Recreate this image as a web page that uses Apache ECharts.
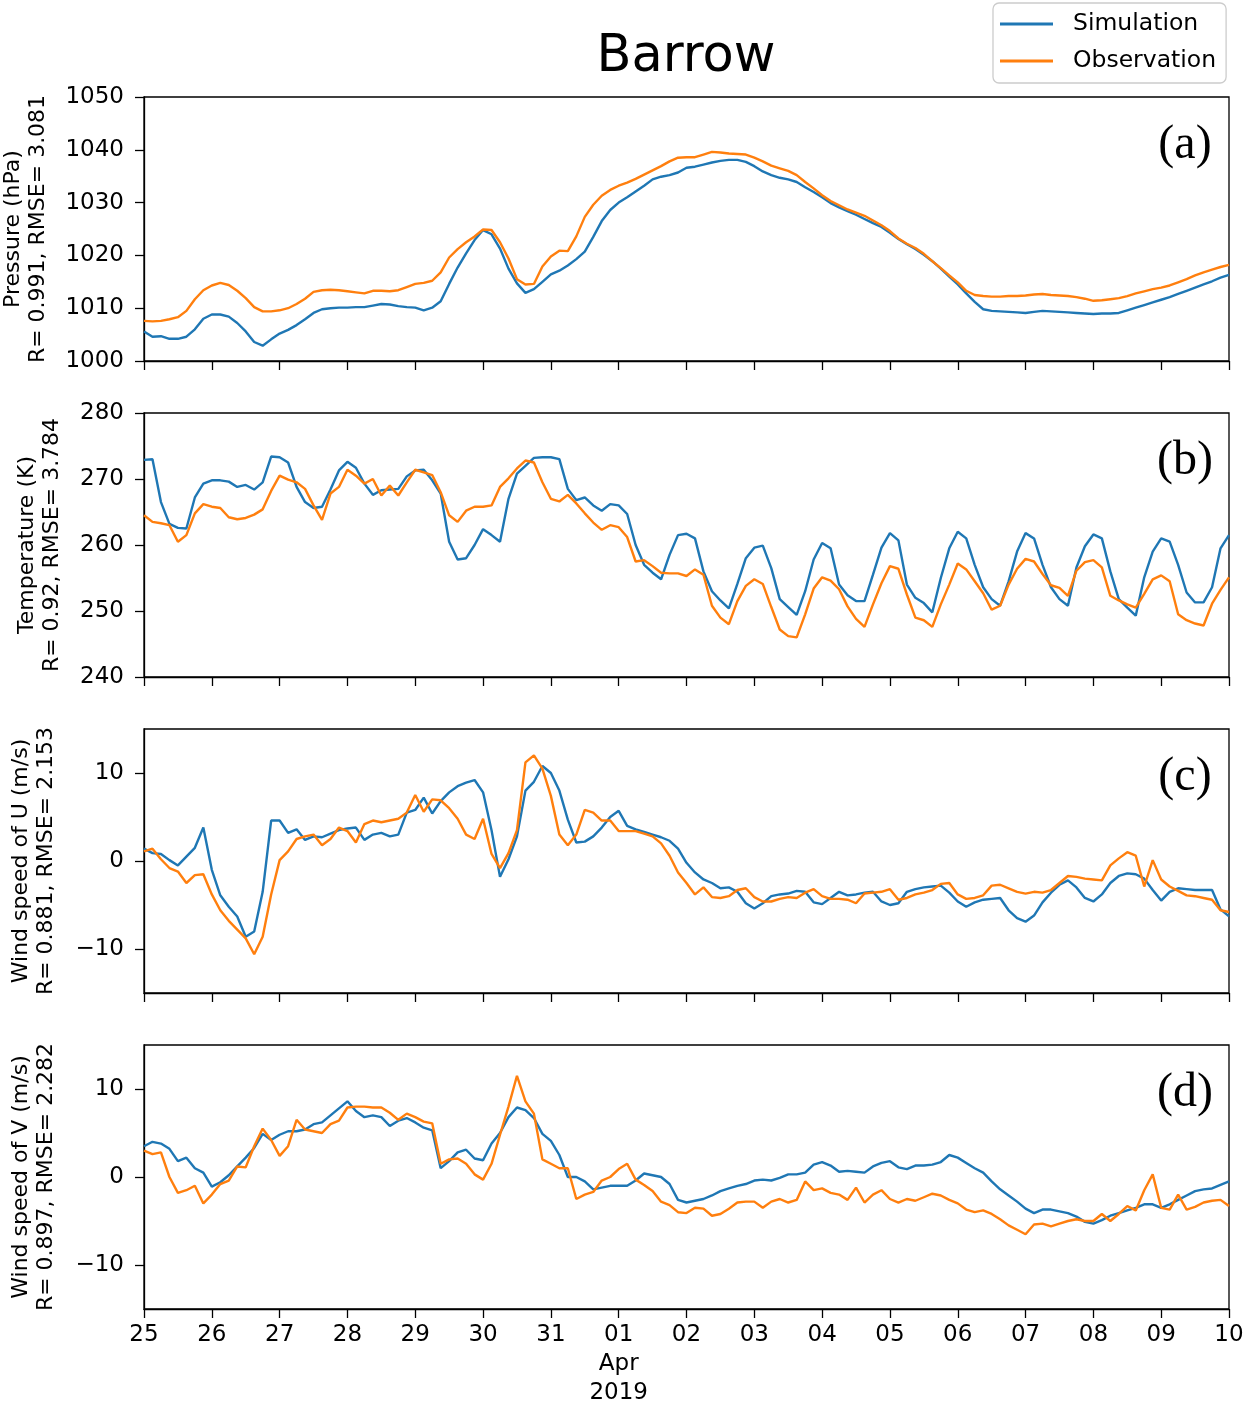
<!DOCTYPE html>
<html>
<head>
<meta charset="utf-8">
<title>Barrow</title>
<script src="https://cdn.jsdelivr.net/npm/echarts@6/dist/echarts.min.js"></script>
<style>
  html, body { margin: 0; padding: 0; background: #fff; }
  #chart { width: 1243px; height: 1403px; }
</style>
</head>
<body>
<div id="chart"></div>
<script>
// 3-hourly samples from 2019-03-25 00:00 to 2019-04-10 00:00 (129 points)
var STEP_DAYS = 0.125;
var dayLabels = ['25', '26', '27', '28', '29', '30', '31', '01\nApr\n2019',
  '02', '03', '04', '05', '06', '07', '08', '09', '10'];

var pressureSim = [
  1005.6, 1004.6, 1004.7, 1004.2, 1004.2, 1004.6, 1006.0, 1008.0,
  1008.8, 1008.8, 1008.4, 1007.2, 1005.6, 1003.6, 1002.9, 1004.1,
  1005.2, 1005.9, 1006.8, 1007.9, 1009.1, 1009.8, 1010.0, 1010.1,
  1010.1, 1010.2, 1010.2, 1010.5, 1010.8, 1010.7, 1010.4, 1010.2,
  1010.1, 1009.6, 1010.1, 1011.3, 1014.6, 1017.7, 1020.4, 1022.9,
  1024.8, 1024.0, 1021.3, 1017.5, 1014.7, 1012.9, 1013.6, 1015.0,
  1016.4, 1017.1, 1018.1, 1019.3, 1020.7, 1023.5, 1026.5, 1028.6,
  1030.0, 1031.0, 1032.1, 1033.2, 1034.4, 1034.9, 1035.2, 1035.7,
  1036.6, 1036.8, 1037.2, 1037.6, 1037.9, 1038.1, 1038.1, 1037.7,
  1036.9, 1035.9, 1035.2, 1034.7, 1034.4, 1033.9, 1032.9, 1032.0,
  1031.0, 1029.9, 1029.1, 1028.4, 1027.7, 1026.9, 1026.1, 1025.4,
  1024.3, 1023.1, 1022.1, 1021.2, 1020.1, 1018.9, 1017.5, 1016.0,
  1014.5, 1012.8, 1011.2, 1009.8, 1009.5, 1009.4, 1009.3, 1009.2,
  1009.1, 1009.3, 1009.5, 1009.4, 1009.3, 1009.2, 1009.1, 1009.0,
  1008.9, 1009.0, 1009.0, 1009.1, 1009.6, 1010.1, 1010.6, 1011.1,
  1011.6, 1012.1, 1012.7, 1013.3, 1013.9, 1014.5, 1015.1, 1015.8,
  1016.3
];
var pressureObs = [
  1007.6, 1007.5, 1007.6, 1007.9, 1008.3, 1009.5, 1011.7, 1013.4,
  1014.3, 1014.8, 1014.4, 1013.3, 1011.9, 1010.2, 1009.4, 1009.4,
  1009.6, 1010.0, 1010.8, 1011.8, 1013.1, 1013.4, 1013.5, 1013.4,
  1013.2, 1013.0, 1012.8, 1013.3, 1013.3, 1013.2, 1013.4, 1014.0,
  1014.6, 1014.8, 1015.2, 1016.8, 1019.6, 1021.2, 1022.5, 1023.6,
  1024.9, 1024.8, 1022.5, 1019.4, 1015.5, 1014.5, 1014.6, 1017.9,
  1019.8, 1020.9, 1020.8, 1023.6, 1027.3, 1029.6, 1031.3, 1032.4,
  1033.2, 1033.8, 1034.5, 1035.3, 1036.1, 1036.9, 1037.8, 1038.5,
  1038.6, 1038.6, 1039.1, 1039.6, 1039.5, 1039.3, 1039.2, 1039.1,
  1038.5, 1037.8, 1037.0, 1036.5, 1036.0, 1035.2, 1033.9, 1032.7,
  1031.4, 1030.3, 1029.5, 1028.7, 1028.1, 1027.5, 1026.6, 1025.7,
  1024.6, 1023.2, 1022.2, 1021.4, 1020.3, 1018.9, 1017.6, 1016.2,
  1014.9, 1013.3, 1012.5, 1012.3, 1012.2, 1012.2, 1012.3, 1012.3,
  1012.4, 1012.6, 1012.7, 1012.5, 1012.4, 1012.3, 1012.1, 1011.8,
  1011.4, 1011.5, 1011.7, 1011.9, 1012.3, 1012.8, 1013.2, 1013.6,
  1013.9, 1014.3, 1014.9, 1015.5, 1016.2, 1016.8, 1017.3, 1017.8,
  1018.2
];

var tempSim = [
  272.9, 273.0, 266.5, 263.2, 262.6, 262.5, 267.2, 269.3,
  269.8, 269.8, 269.6, 268.8, 269.1, 268.4, 269.5, 273.4,
  273.3, 272.5, 268.8, 266.5, 265.6, 265.8, 268.4, 271.3,
  272.6, 271.7, 269.3, 267.6, 268.3, 268.4, 268.5, 270.4,
  271.3, 271.4, 269.8, 267.8, 260.5, 257.8, 258.0, 260.0,
  262.4, 261.5, 260.5, 267.0, 270.8, 272.0, 273.2, 273.3,
  273.3, 273.0, 268.5, 266.8, 267.2, 266.0, 265.2, 266.2,
  266.0, 264.7, 260.0, 257.0, 255.8, 254.8, 258.5, 261.5,
  261.7, 261.0, 256.0, 253.0, 251.6, 250.4, 254.1, 258.0,
  259.6, 259.9, 256.5, 251.8, 250.6, 249.4, 253.0, 257.8,
  260.3, 259.5, 254.0, 252.4, 251.5, 251.5, 255.5, 259.6,
  261.8, 260.7, 254.0, 252.0, 251.2, 249.8, 255.0, 259.5,
  262.0, 261.0, 257.0, 253.6, 251.8, 250.8, 254.5, 259.0,
  261.8, 261.0, 257.0, 253.6, 251.8, 250.8, 256.6, 259.8,
  261.6, 261.0, 256.0, 251.8, 250.5, 249.3, 255.1, 259.0,
  261.0, 260.5, 257.0, 252.8, 251.3, 251.3, 253.6, 259.5,
  261.5
];
var tempObs = [
  264.5, 263.5, 263.3, 263.0, 260.5, 261.5, 264.8, 266.2,
  265.8, 265.6, 264.2, 263.9, 264.1, 264.6, 265.4, 268.2,
  270.5, 269.9, 269.5, 268.5, 266.0, 263.8, 267.8, 268.8,
  271.4, 270.5, 269.3, 270.0, 267.5, 269.0, 267.5, 269.5,
  271.4, 271.0, 270.6, 268.0, 264.5, 263.5, 265.2, 265.8,
  265.8, 266.0, 268.8, 270.1, 271.6, 272.8, 272.5, 269.5,
  267.0, 266.6, 267.6, 266.3, 264.8, 263.4, 262.3, 263.0,
  262.7, 261.2, 257.5, 257.7, 256.8, 255.8, 255.7, 255.7,
  255.3, 256.3, 255.5, 250.8, 249.0, 248.0, 251.5, 253.8,
  254.8, 254.1, 250.6, 247.2, 246.2, 246.0, 249.5, 253.4,
  255.1, 254.6, 253.3, 250.7, 248.8, 247.6, 251.0, 254.2,
  256.8, 256.4, 252.5, 249.0, 248.6, 247.6, 251.0, 254.0,
  257.2, 256.3, 254.5, 252.7, 250.2, 250.8, 254.0, 256.4,
  257.9, 257.5, 255.6, 253.9, 253.5, 252.3, 256.1, 257.4,
  257.7, 256.6, 252.3, 251.6, 251.0, 250.5, 252.6, 254.8,
  255.4, 254.5, 249.5, 248.6, 248.1, 247.8, 251.1, 253.2,
  255.1
];

var uSim = [
  1.4, 0.9, 0.8, 0.1, -0.5, 0.5, 1.5, 3.8,
  -1.0, -3.9, -5.2, -6.3, -8.6, -8.0, -3.5, 4.6,
  4.6, 3.2, 3.6, 2.4, 2.8, 2.7, 3.1, 3.5,
  3.7, 3.8, 2.4, 3.0, 3.2, 2.8, 3.0, 5.5,
  5.8, 7.2, 5.4, 6.8, 7.8, 8.5, 8.9, 9.2,
  7.8, 3.5, -1.8, 0.2, 2.8, 8.0, 9.0, 10.8,
  10.0, 8.0, 4.7, 2.1, 2.2, 2.8, 3.8, 5.0,
  5.7, 4.0, 3.6, 3.3, 3.0, 2.7, 2.3, 1.4,
  -0.2, -1.3, -2.1, -2.5, -3.1, -3.0, -3.5, -4.8,
  -5.4, -4.8, -4.0, -3.8, -3.7, -3.4, -3.5, -4.7,
  -4.9, -4.2, -3.5, -3.9, -3.8, -3.6, -3.5, -4.6,
  -5.0, -4.8, -3.5, -3.2, -3.0, -2.9, -2.8, -3.6,
  -4.6, -5.2, -4.7, -4.4, -4.3, -4.2, -5.6, -6.5,
  -6.9, -6.2, -4.7, -3.6, -2.7, -2.2, -3.0, -4.2,
  -4.6, -3.8, -2.5, -1.7, -1.4, -1.5, -2.0, -3.3,
  -4.5, -3.5, -3.1, -3.2, -3.3, -3.3, -3.3, -5.5,
  -6.3
];
var uObs = [
  1.1, 1.4, 0.2, -0.8, -1.2, -2.5, -1.6, -1.5,
  -3.8, -5.6, -6.8, -7.8, -8.8, -10.6, -8.6, -3.8,
  0.1, 1.1, 2.5, 2.8, 3.0, 1.8, 2.5, 3.8,
  3.4, 2.1, 4.2, 4.6, 4.4, 4.6, 4.8, 5.5,
  7.5, 5.6, 7.0, 6.9, 6.0, 4.8, 3.0, 2.5,
  4.8, 0.8, -0.8, 0.9, 3.5, 11.2, 12.0, 10.5,
  7.4, 3.0, 1.8, 3.0, 5.8, 5.5, 4.6, 4.6,
  3.4, 3.4, 3.4, 3.1, 2.8, 2.0, 0.6, -1.3,
  -2.5, -3.8, -3.0, -4.1, -4.2, -4.0, -3.3, -3.1,
  -4.1, -4.6, -4.6, -4.3, -4.1, -4.2, -3.6, -3.2,
  -4.0, -4.3, -4.3, -4.4, -4.8, -3.7, -3.6, -3.5,
  -3.2, -4.4, -4.2, -3.8, -3.6, -3.3, -2.6, -2.5,
  -3.8, -4.3, -4.2, -3.9, -2.8, -2.7, -3.1, -3.5,
  -3.7, -3.5, -3.6, -3.3, -2.5, -1.7, -1.8, -2.0,
  -2.1, -2.2, -0.5, 0.3, 1.0, 0.6, -2.9, 0.1,
  -2.1, -2.9, -3.4, -3.9, -4.0, -4.2, -4.4, -5.6,
  -5.8
];

var vSim = [
  3.5, 4.0, 3.8, 3.2, 1.8, 2.2, 1.0, 0.5,
  -1.1, -0.6, 0.2, 1.2, 2.2, 3.3, 4.9, 4.2,
  4.8, 5.2, 5.2, 5.4, 6.0, 6.2, 7.0, 7.8,
  8.6, 7.5, 6.8, 7.0, 6.8, 5.8, 6.4, 6.7,
  6.2, 5.6, 5.3, 1.0, 1.8, 2.8, 3.1, 2.1,
  1.9, 3.8, 5.0, 6.8, 7.9, 7.6, 6.7, 4.9,
  4.1, 2.5, 0.0, 0.0, -0.5, -1.4, -1.2, -1.0,
  -1.0, -1.0, -0.4, 0.4, 0.2, 0.0, -0.8, -2.6,
  -2.9, -2.7, -2.5, -2.1, -1.6, -1.3, -1.0, -0.8,
  -0.4, -0.3, -0.4, -0.1, 0.3, 0.3, 0.5, 1.4,
  1.7, 1.3, 0.6, 0.7, 0.6, 0.5, 1.2, 1.6,
  1.8, 1.1, 0.9, 1.3, 1.3, 1.4, 1.7, 2.5,
  2.2, 1.6, 1.0, 0.5, -0.5, -1.4, -2.1, -2.8,
  -3.6, -4.1, -3.7, -3.7, -3.9, -4.1, -4.5, -5.1,
  -5.3, -4.9, -4.4, -4.1, -3.8, -3.5, -3.1, -3.1,
  -3.5, -3.1, -2.6, -2.1, -1.6, -1.4, -1.3, -0.9,
  -0.5
];
var vObs = [
  3.0, 2.6, 2.8, 0.0, -1.8, -1.5, -1.0, -3.0,
  -2.0, -0.8, -0.4, 1.2, 1.1, 3.5, 5.5, 4.2,
  2.4, 3.5, 6.5, 5.4, 5.2, 5.0, 6.0, 6.4,
  7.9, 8.0, 8.0, 7.9, 7.9, 7.3, 6.5, 7.2,
  6.8, 6.3, 6.1, 1.5, 2.0, 2.1, 1.5, 0.3,
  -0.3, 1.5, 4.8, 8.0, 11.5, 8.6, 7.2, 2.0,
  1.5, 1.0, 1.0, -2.5, -2.0, -1.7, -0.4, 0.0,
  0.9, 1.5, -0.3, -0.9, -1.6, -2.8, -3.2, -4.0,
  -4.1, -3.5, -3.6, -4.4, -4.2, -3.6, -2.9, -2.8,
  -2.8, -3.5, -2.8, -2.5, -2.9, -2.6, -0.5, -1.5,
  -1.3, -1.8, -2.0, -2.6, -1.2, -2.9, -2.0, -1.5,
  -2.5, -2.9, -2.5, -2.7, -2.3, -1.9, -2.1, -2.6,
  -3.0, -3.7, -4.0, -3.8, -4.2, -4.8, -5.5, -6.0,
  -6.5, -5.4, -5.3, -5.6, -5.3, -5.0, -4.8, -5.0,
  -5.0, -4.2, -5.0, -4.2, -3.3, -3.8, -1.5, 0.3,
  -3.5, -3.7, -2.0, -3.7, -3.4, -2.9, -2.7, -2.6,
  -3.3
];

var panelNames = [
  'Pressure (hPa)\nR= 0.991, RMSE= 3.081',
  'Temperature (K)\nR= 0.92, RMSE= 3.784',
  'Wind speed of U (m/s)\nR= 0.881, RMSE= 2.153',
  'Wind speed of V (m/s)\nR= 0.897, RMSE= 2.282'
];
var panelTags = ['(a)', '(b)', '(c)', '(d)'];
var yRanges = [
  { min: 1000, max: 1050, interval: 10, ticks: null },
  { min: 240, max: 280, interval: 10, ticks: null },
  { min: -15, max: 15, interval: 5, ticks: [-10, 0, 10] },
  { min: -15, max: 15, interval: 5, ticks: [-10, 0, 10] }
];
var simSets = [pressureSim, tempSim, uSim, vSim];
var obsSets = [pressureObs, tempObs, uObs, vObs];

(function () {
  var blue = '#1f77b4';
  var orange = '#ff7f0e';
  var font = 'DejaVu Sans';
  var gridTops = [97, 413, 729, 1045];
  var gridH = 264;
  var nameGaps = [93, 79, 85, 85];

  function toPoints(vals) {
    return vals.map(function (v, i) { return [i * STEP_DAYS, v]; });
  }
  function minus(s) { return String(s).replace('-', '\u2212'); }

  var grid = [], xAxis = [], yAxis = [], series = [], graphic = [];
  for (var i = 0; i < 4; i++) {
    grid.push({
      left: 144, width: 1085, top: gridTops[i], height: gridH,
      containLabel: false, outerBoundsMode: 'none',
      show: true, borderColor: '#000', borderWidth: 1.3, backgroundColor: 'transparent'
    });
    xAxis.push({
      type: 'value', gridIndex: i, min: 0, max: 16, interval: 1,
      axisLine: { show: true, onZero: false, lineStyle: { color: '#000', width: 1.3 } },
      axisTick: { show: true, length: 9, lineStyle: { color: '#000', width: 1.3 } },
      axisLabel: {
        show: i === 3, margin: 12, color: '#000', fontSize: 23, lineHeight: 29,
        fontFamily: font, verticalAlign: 'top',
        formatter: function (v) { return dayLabels[Math.round(v)]; }
      },
      splitLine: { show: false }
    });
    var r = yRanges[i];
    var yTick = { show: true, length: 9, lineStyle: { color: '#000', width: 1.3 } };
    var yLab = {
      margin: 20, color: '#000', fontSize: 23, fontFamily: font,
      formatter: function (v) { return minus(v); }
    };
    if (r.ticks) { yTick.customValues = r.ticks; yLab.customValues = r.ticks; }
    yAxis.push({
      type: 'value', gridIndex: i, min: r.min, max: r.max, interval: r.interval,
      name: panelNames[i], nameLocation: 'middle', nameRotate: 90, nameGap: nameGaps[i],
      nameTextStyle: { color: '#000', fontSize: 22, lineHeight: 25, fontFamily: font },
      axisLine: { show: true, onZero: false, lineStyle: { color: '#000', width: 1.3 } },
      axisTick: yTick,
      axisLabel: yLab,
      splitLine: { show: false }
    });
    series.push({
      name: 'Simulation', type: 'line', xAxisIndex: i, yAxisIndex: i,
      data: toPoints(simSets[i]), symbol: 'none', showSymbol: false,
      lineStyle: { color: blue, width: 2.4 }, itemStyle: { color: blue }, z: 2
    });
    series.push({
      name: 'Observation', type: 'line', xAxisIndex: i, yAxisIndex: i,
      data: toPoints(obsSets[i]), symbol: 'none', showSymbol: false,
      lineStyle: { color: orange, width: 2.4 }, itemStyle: { color: orange }, z: 3
    });
    graphic.push({
      type: 'text', x: 1185, y: gridTops[i] + 48,
      style: {
        text: panelTags[i], fill: '#000', font: '48px "Liberation Serif", "Times New Roman", serif',
        textAlign: 'center', textVerticalAlign: 'middle'
      }
    });
  }

  var chart = echarts.init(document.getElementById('chart'), null, { renderer: 'canvas' });
  chart.setOption({
    animation: false,
    backgroundColor: '#fff',
    textStyle: { fontFamily: font },
    title: {
      text: 'Barrow', left: 686, top: 32, textAlign: 'center', padding: 0,
      textStyle: { color: '#000', fontSize: 51, fontWeight: 'normal', lineHeight: 52, fontFamily: font }
    },
    legend: {
      orient: 'vertical', left: 993, top: 3,
      padding: [8, 10, 9, 7],
      backgroundColor: 'rgba(255,255,255,0.8)',
      borderColor: '#cccccc', borderWidth: 1.3, borderRadius: 6,
      itemWidth: 53, itemHeight: 3, itemGap: 11, icon: 'rect',
      textStyle: { color: '#000', fontSize: 23.5, lineHeight: 26, fontFamily: font, padding: [0, 0, 0, 15] },
      data: ['Simulation', 'Observation']
    },
    grid: grid,
    xAxis: xAxis,
    yAxis: yAxis,
    series: series,
    graphic: graphic
  });
  window.addEventListener('resize', function () { chart.resize(); });
})();
</script>
</body>
</html>
